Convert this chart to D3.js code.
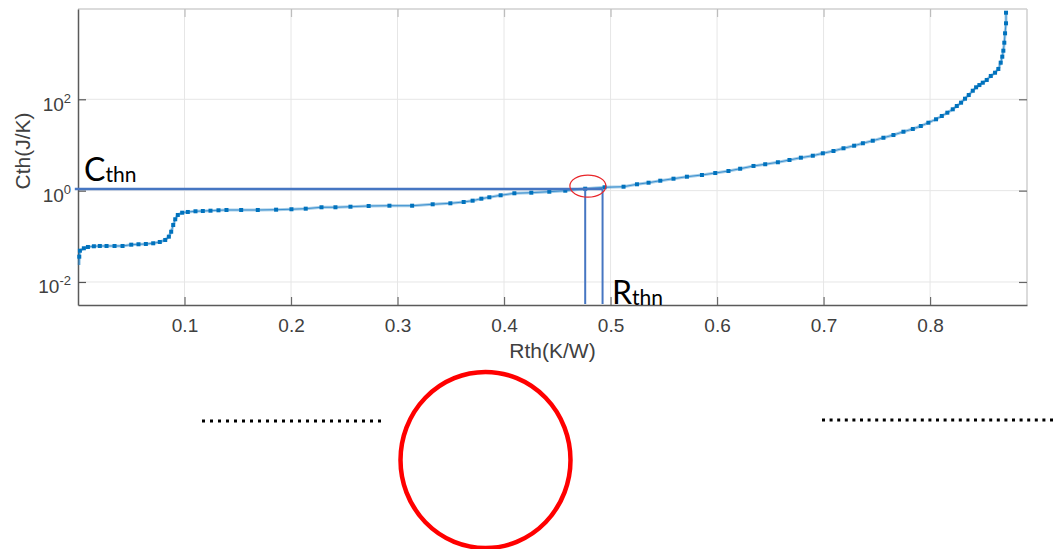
<!DOCTYPE html>
<html>
<head>
<meta charset="utf-8">
<script src="https://cdn.jsdelivr.net/npm/d3@7"></script>
<style>
  html, body { margin: 0; padding: 0; background: #ffffff; }
  svg { display: block; }
</style>
</head>
<body>
<svg id="chart" width="1055" height="549"></svg>
<script>
// ---- data ----
const rth = [0.0011, 0.0012, 0.0018, 0.0055, 0.0093, 0.0149, 0.0205, 0.0268, 0.0343, 0.0418,
  0.0500, 0.0568, 0.0637, 0.0706, 0.0768, 0.0819, 0.0853, 0.0875, 0.0894, 0.0913,
  0.0937, 0.0978, 0.1031, 0.1103, 0.1172, 0.1244, 0.1319, 0.1394, 0.1532, 0.1688,
  0.1860, 0.2004, 0.2138, 0.2286, 0.2417, 0.2558, 0.2729, 0.2924, 0.3137, 0.3330,
  0.3496, 0.3621, 0.3705, 0.3787, 0.3862, 0.3968, 0.4097, 0.4256, 0.4425, 0.4575,
  0.4762, 0.4944, 0.5122, 0.5248, 0.5357, 0.5467, 0.5591, 0.5717, 0.5858, 0.5983,
  0.6107, 0.6217, 0.6342, 0.6452, 0.6571, 0.6680, 0.6787, 0.6899, 0.6993, 0.7093,
  0.7187, 0.7287, 0.7369, 0.7462, 0.7562, 0.7656, 0.7750, 0.7838, 0.7913, 0.7984,
  0.8056, 0.8110, 0.8162, 0.8213, 0.8251, 0.8291, 0.8328, 0.8363, 0.8401, 0.8432,
  0.8463, 0.8495, 0.8532, 0.8570, 0.8610, 0.8641, 0.8663, 0.8678, 0.8688, 0.8697,
  0.8704, 0.8713, 0.8713];
const cth = [0.0236, 0.0358, 0.0484, 0.0547, 0.0584, 0.0605, 0.0614, 0.0614, 0.0614, 0.0614,
  0.0656, 0.0669, 0.0679, 0.0703, 0.0751, 0.0831, 0.0982, 0.126, 0.177, 0.236,
  0.293, 0.329, 0.341, 0.353, 0.358, 0.364, 0.371, 0.377, 0.377, 0.377,
  0.383, 0.391, 0.403, 0.432, 0.432, 0.445, 0.461, 0.468, 0.468, 0.502,
  0.528, 0.564, 0.603, 0.667, 0.715, 0.791, 0.875, 0.902, 0.948, 0.998,
  1.103, 1.184, 1.220, 1.377, 1.493, 1.651, 1.827, 2.02, 2.20, 2.43,
  2.69, 3.02, 3.47, 3.78, 4.18, 4.69, 5.27, 5.82, 6.57, 7.38,
  8.46, 9.64, 10.9, 12.4, 14.4, 16.5, 19.5, 22.4, 26.0, 30.7,
  36.5, 43.1, 50.9, 60.4, 71.3, 84.3, 103, 124, 154, 183,
  205, 231, 265, 324, 382, 461, 633, 857, 1159, 1734,
  2786, 4614, 7870];
const markerFrom = 1;               // first sample is the line's tail only

const xTicks = [0.1, 0.2, 0.3, 0.4, 0.5, 0.6, 0.7, 0.8];
const yTicks = [1e-2, 1e0, 1e2];
const yTickExp = ["-2", "0", "2"];
const xLabel = "Rth(K/W)";
const yLabel = "Cth(J/K)";

const cthn = 1.08;                  // horizontal reference level
const rthnA = 0.4762;               // vertical reference lines
const rthnB = 0.4925;
const hLineStart = -0.003;

// ---- layout ----
const L = 78, R = 1027, T = 9, B = 305;
const svg = d3.select("#chart");

const x = d3.scaleLinear().domain([0, 0.891]).range([L, R]);
const y = d3.scaleLog().domain([Math.pow(10, -2.504), Math.pow(10, 3.977)]).range([B, T]);

const tickFont = "'Liberation Sans', Arial, sans-serif";
const tickColor = "#404040";

// grid
svg.append("g").selectAll("line.gx").data(xTicks).join("line")
  .attr("x1", d => x(d)).attr("x2", d => x(d)).attr("y1", T).attr("y2", B)
  .attr("stroke", "#e6e6e6").attr("stroke-width", 1);
svg.append("g").selectAll("line.gy").data(yTicks).join("line")
  .attr("x1", L).attr("x2", R).attr("y1", d => y(d)).attr("y2", d => y(d))
  .attr("stroke", "#e6e6e6").attr("stroke-width", 1);

// box (top/right lighter)
svg.append("line").attr("x1", L).attr("x2", R).attr("y1", T).attr("y2", T)
  .attr("stroke", "#cfcfcf").attr("stroke-width", 1.5);
svg.append("line").attr("x1", R).attr("x2", R).attr("y1", T).attr("y2", B)
  .attr("stroke", "#cfcfcf").attr("stroke-width", 1.5);

// top and right inward ticks
svg.append("g").attr("transform", `translate(0,${T})`)
  .call(d3.axisTop(x).tickValues(xTicks).tickSize(-8).tickFormat(""))
  .call(g => g.select(".domain").remove())
  .call(g => g.selectAll(".tick line").attr("stroke", "#bdbdbd").attr("stroke-width", 1.2));
svg.append("g").attr("transform", `translate(${R},0)`)
  .call(d3.axisRight(y).tickValues(yTicks).tickSize(-8).tickFormat(""))
  .call(g => g.select(".domain").remove())
  .call(g => g.selectAll(".tick line").attr("stroke", "#666").attr("stroke-width", 1.2));

// bottom axis
const gx = svg.append("g").attr("transform", `translate(0,${B})`)
  .call(d3.axisBottom(x).tickValues(xTicks).tickSize(-8).tickSizeOuter(0).tickFormat(d3.format(".1f")));
gx.select(".domain").attr("stroke", "#5a5a5a").attr("stroke-width", 1.5);
gx.selectAll(".tick line").attr("stroke", "#6a6a6a").attr("stroke-width", 1.2);
gx.selectAll(".tick text").attr("y", 27).attr("dy", null)
  .attr("font-family", tickFont).attr("font-size", 19).attr("fill", tickColor);

// left axis
const gy = svg.append("g").attr("transform", `translate(${L},0)`)
  .call(d3.axisLeft(y).tickValues(yTicks).tickSize(-8).tickSizeOuter(0).tickFormat(""));
gy.select(".domain").attr("stroke", "#5a5a5a").attr("stroke-width", 1.5);
gy.selectAll(".tick line").attr("stroke", "#555").attr("stroke-width", 1.2);
gy.selectAll(".tick text").remove();
gy.selectAll(".tick").each(function(d, i) {
  const t = d3.select(this).append("text")
    .attr("x", -7).attr("y", 11).attr("text-anchor", "end")
    .attr("font-family", tickFont).attr("fill", tickColor);
  t.append("tspan").attr("font-size", 19).text("10");
  t.append("tspan").attr("font-size", 13).attr("dy", -8).text(yTickExp[i]);
});

// axis labels
svg.append("text").attr("x", (L + R) / 2).attr("y", 358).attr("text-anchor", "middle")
  .attr("font-family", tickFont).attr("font-size", 21).attr("fill", tickColor).text(xLabel);
svg.append("text").attr("transform", "translate(30,151) rotate(-90)").attr("text-anchor", "middle")
  .attr("font-family", tickFont).attr("font-size", 21).attr("fill", tickColor).text(yLabel);

// curve
const pts = rth.map((v, i) => [v, cth[i]]);
const line = d3.line().x(d => x(d[0])).y(d => y(d[1]));
svg.append("path").datum(pts).attr("d", line)
  .attr("fill", "none").attr("stroke", "#0072BD").attr("stroke-opacity", 0.35).attr("stroke-width", 3);
svg.append("path").datum(pts).attr("d", line)
  .attr("fill", "none").attr("stroke", "#3a8fd0").attr("stroke-width", 1);
svg.append("g").selectAll("rect").data(pts.slice(markerFrom)).join("rect")
  .attr("x", d => x(d[0]) - 2).attr("y", d => y(d[1]) - 2)
  .attr("width", 4).attr("height", 4).attr("fill", "#0072BD");

// reference lines
const refColor = "#4676C2";
svg.append("line").attr("x1", x(hLineStart)).attr("x2", x(rthnB))
  .attr("y1", y(cthn)).attr("y2", y(cthn))
  .attr("stroke", refColor).attr("stroke-width", 2.5);
[rthnA, rthnB].forEach(r => {
  svg.append("line").attr("x1", x(r)).attr("x2", x(r))
    .attr("y1", y(cthn)).attr("y2", B - 1)
    .attr("stroke", refColor).attr("stroke-width", 2);
});

// small red ellipse marking the intersection
svg.append("ellipse").attr("cx", x((rthnA + rthnB) / 2) - 6).attr("cy", y(cthn) - 3)
  .attr("rx", 18).attr("ry", 11)
  .attr("fill", "none").attr("stroke", "#e8262a").attr("stroke-width", 1.2);

// annotation labels
const annFont = "Lato, 'Open Sans', sans-serif";
const c = svg.append("text").attr("x", 84).attr("y", 181).attr("font-family", annFont).attr("fill", "#000");
c.append("tspan").attr("font-size", 32).text("C");
c.append("tspan").attr("font-size", 21).attr("dy", 1).text("thn");
const r = svg.append("text").attr("x", 612).attr("y", 304).attr("font-family", annFont).attr("fill", "#000");
r.append("tspan").attr("font-size", 32).text("R");
r.append("tspan").attr("font-size", 21).attr("dy", 1).text("thn");

// decorative elements below the chart
svg.append("line").attr("x1", 202).attr("x2", 382).attr("y1", 421).attr("y2", 421)
  .attr("stroke", "#000").attr("stroke-width", 3).attr("stroke-dasharray", "3 5");
svg.append("line").attr("x1", 822).attr("x2", 1055).attr("y1", 420).attr("y2", 420)
  .attr("stroke", "#000").attr("stroke-width", 3).attr("stroke-dasharray", "3 4.6");
svg.append("ellipse").attr("cx", 485.5).attr("cy", 460).attr("rx", 85).attr("ry", 88)
  .attr("fill", "none").attr("stroke", "#ff0000").attr("stroke-width", 4.5);
</script>
</body>
</html>
